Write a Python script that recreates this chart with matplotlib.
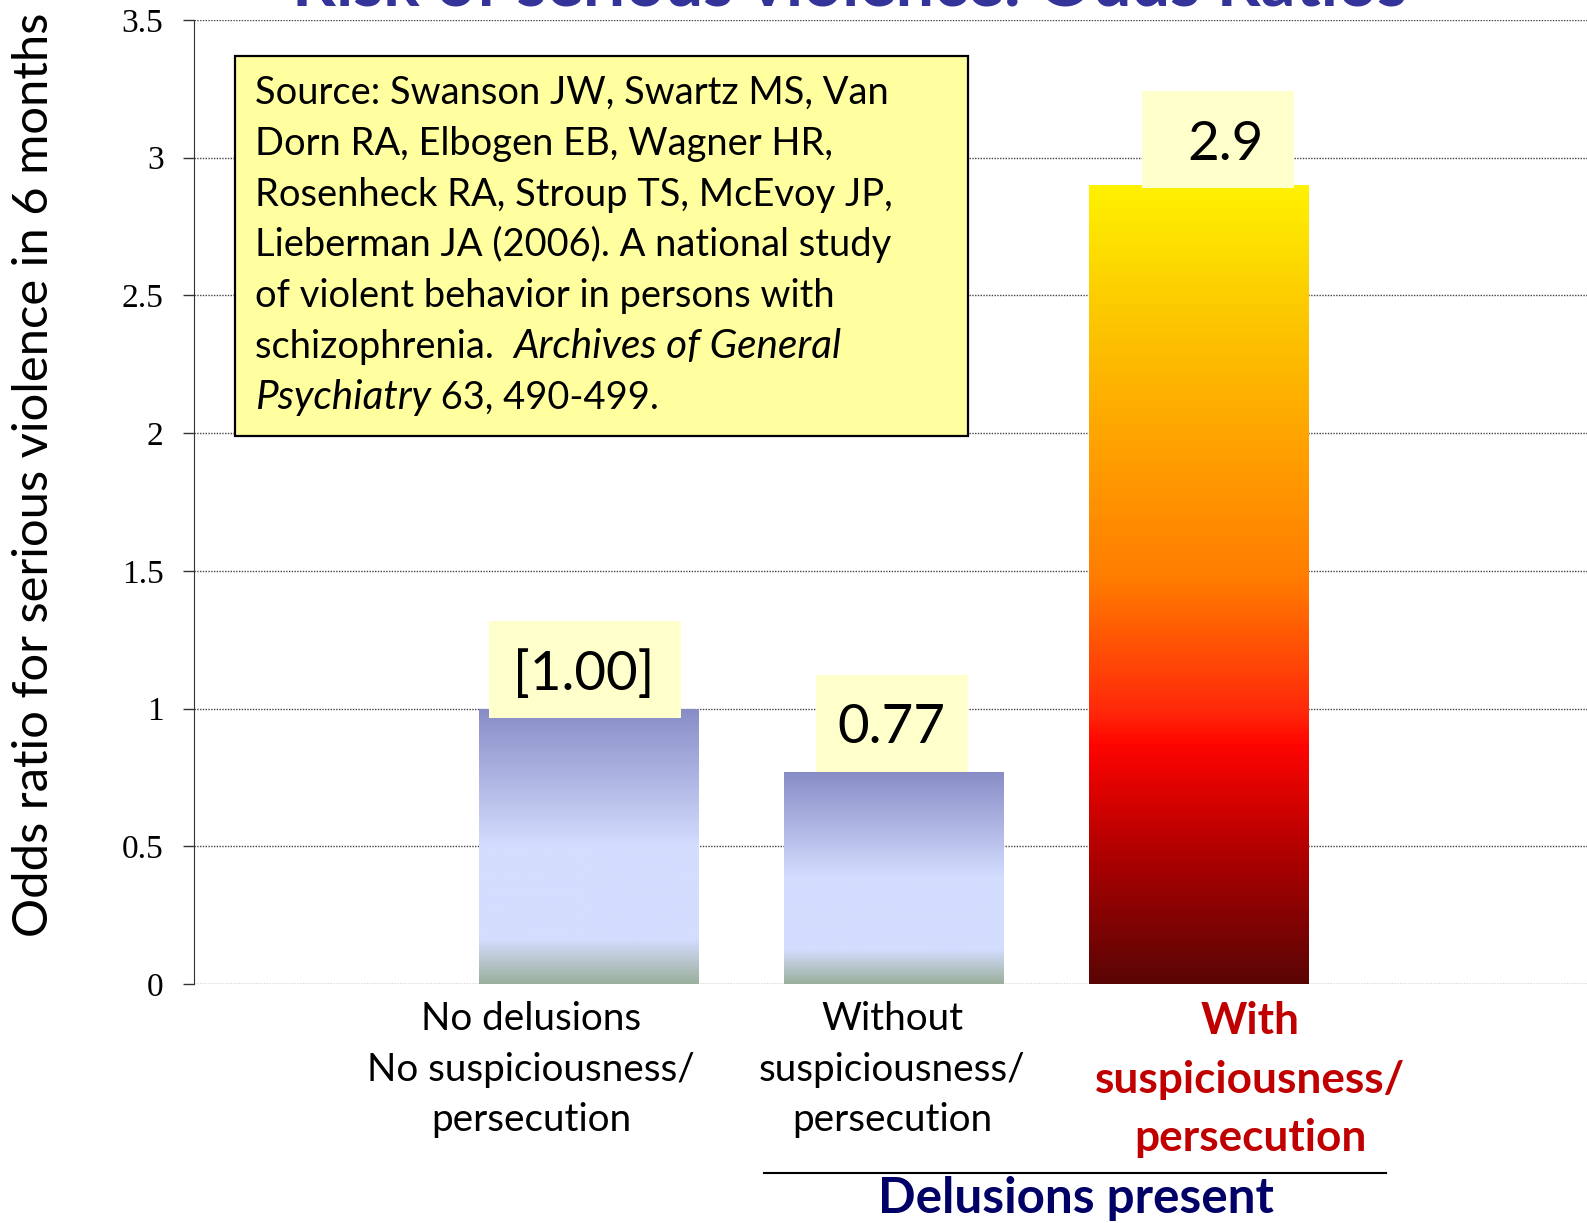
import numpy as np
import matplotlib
matplotlib.use("Agg")
import matplotlib.pyplot as plt
from matplotlib.colors import LinearSegmentedColormap
from matplotlib.patches import Rectangle
from matplotlib.lines import Line2D

# ---- data ----
categories = [
    ["No delusions", "No suspiciousness/", "persecution"],
    ["Without", "suspiciousness/", "persecution"],
    ["With", "suspiciousness/", "persecution"],
]
odds = [1.00, 0.77, 2.9]
value_labels = ["[1.00]", "0.77", "2.9"]
yticks = [0, 0.5, 1, 1.5, 2, 2.5, 3, 3.5]
ytick_labels = ["0", "0.5", "1", "1.5", "2", "2.5", "3", "3.5"]
title = "Risk of serious violence: Odds Ratios"
ylabel = "Odds ratio for serious violence in 6 months"
group_label = "Delusions present"
# (text, italic?) pieces per line
source_lines = [
    [("Source: Swanson JW, Swartz MS, Van", False)],
    [("Dorn RA, Elbogen EB, Wagner HR,", False)],
    [("Rosenheck RA, Stroup TS, McEvoy JP,", False)],
    [("Lieberman JA (2006). A national study", False)],
    [("of violent behavior in persons with", False)],
    [("schizophrenia.  ", False), ("Archives of General", True)],
    [("Psychiatry", True), (" 63, 490-499.", False)],
]

SANS = "Lato"
W, H = 1587, 1223
fig = plt.figure(figsize=(W / 100, H / 100), dpi=100)
fig.patch.set_facecolor("white")


def fx(px):
    return px / W


def fy(py):
    return 1 - py / H


def fit(t, target, vertical=False):
    r = fig.canvas.get_renderer()
    bb = t.get_window_extent(r)
    cur = bb.height if vertical else bb.width
    t.set_fontsize(t.get_fontsize() * target / cur)
    return t.get_fontsize()


ax = fig.add_axes([fx(194), fy(984), fx(1587) - fx(194), (984 - 20) / H])
x = np.arange(len(odds))
bar_w = 0.718
bars = ax.bar(x, odds, width=bar_w, color="none", edgecolor="none", zorder=2)

blue = LinearSegmentedColormap.from_list("blue", [
    (0, "#888CC6"), (0.5, "#D3DDFE"), (0.84, "#D3DDFE"), (1, "#9BAF9C")])
fire = LinearSegmentedColormap.from_list("fire", [
    (0, "#FFF200"), (0.14, "#FCCD00"), (0.31, "#FFA500"), (0.49, "#FF7D00"),
    (0.66, "#FF280A"), (0.70, "#FF0500"), (0.83, "#B40000"), (1, "#5A0505")])
cmaps = [blue, blue, fire]
grad = np.linspace(0, 1, 256).reshape(-1, 1)
for b, cm in zip(bars, cmaps):
    x0, h = b.get_x(), b.get_height()
    im = ax.imshow(grad, cmap=cm, extent=[x0, x0 + b.get_width(), 0, h],
                   aspect="auto", origin="upper", zorder=2)
    im.set_clip_path(b)

ax.set_xlim(-1.292, 3.275)
ax.set_ylim(0, 3.5)
ax.set_yticks(yticks)
ax.set_yticklabels(ytick_labels, fontfamily="Liberation Serif", fontsize=24)
ax.set_xticks([])
ax.yaxis.grid(True, linestyle=(0, (1, 1)), color="#444444", linewidth=1)
ax.set_axisbelow(True)
for s in ["top", "right", "bottom"]:
    ax.spines[s].set_visible(False)
ax.spines["left"].set_color("#333333")
ax.tick_params(axis="y", length=8, width=1, color="#333333", pad=14)

# value boxes
box_cx = [-0.01, 0.997, 2.066]
box_w = [0.63, 0.5, 0.5]
box_bottom = [0.966, 0.77, 2.89]
box_h = 0.352
text_cx = [-0.013, 0.993, 2.089]
vals = []
for i, lab in enumerate(value_labels):
    ax.add_patch(Rectangle((box_cx[i] - box_w[i] / 2, box_bottom[i]), box_w[i], box_h,
                           facecolor="#FFFFCC", edgecolor="none", zorder=3))
    vals.append(ax.text(text_cx[i], box_bottom[i] + box_h / 2, lab, ha="center",
                        va="center_baseline", fontsize=40, family=SANS, zorder=4))
vsize = fit(vals[1], 108)
for t in vals:
    t.set_fontsize(vsize)

# source box
fig.patches.append(Rectangle((fx(235), fy(436)), fx(968) - fx(235), (436 - 56) / H,
                             transform=fig.transFigure, facecolor="#FFFFA0",
                             edgecolor="black", linewidth=1.6, zorder=5))
ref = fig.text(fx(255), fy(104), source_lines[0][0][0], family=SANS, fontsize=25, zorder=6)
ssize = fit(ref, 636)
ref.remove()
r = fig.canvas.get_renderer()
for k, line in enumerate(source_lines):
    px = 255
    for txt, it in line:
        t = fig.text(fx(px), fy(104 + 50.8 * k), txt, family=SANS,
                     fontsize=ssize * (1.06 if it else 1.0),
                     style="italic" if it else "normal", va="baseline", zorder=6)
        px = t.get_window_extent(r).x1

# title (cut off at top of slide)
tt = fig.text(fx(850), fy(6), title, ha="center", va="baseline", family=SANS,
              fontweight="bold", color="#333399", fontsize=36)
fit(tt, 1114)

# y label
yl = fig.text(fx(34), fy(475), ylabel, rotation=90, ha="center", va="center",
              family=SANS, fontsize=34)
fit(yl, 929, vertical=True)

# category labels
cat_x = [531, 892, 1250]
base_black = [1030, 1081, 1131]
base_red = [1034, 1093, 1151]
t = fig.text(fx(cat_x[0]), fy(base_black[1]), categories[0][1], ha="center",
             va="baseline", family=SANS, fontsize=25)
csize = fit(t, 328)
t.remove()
t = fig.text(fx(cat_x[2]), fy(base_red[1]), categories[2][1], ha="center",
             va="baseline", family=SANS, fontsize=26, fontweight="bold")
rsize = fit(t, 310)
t.remove()
for i, lines in enumerate(categories):
    red = i == 2
    for j, line in enumerate(lines):
        fig.text(fx(cat_x[i]), fy((base_red if red else base_black)[j]), line,
                 ha="center", va="baseline", family=SANS,
                 fontsize=rsize if red else csize,
                 fontweight="bold" if red else "normal",
                 color="#C00000" if red else "black")

# group bracket
fig.add_artist(Line2D([fx(764), fx(1386)], [fy(1173), fy(1173)], color="black",
                      linewidth=1.5, transform=fig.transFigure))
gl = fig.text(fx(1076), fy(1213), group_label, ha="center", va="baseline",
              family=SANS, fontweight="bold", color="#000066", fontsize=28)
fit(gl, 395)

fig.savefig("out.png", dpi=100)
